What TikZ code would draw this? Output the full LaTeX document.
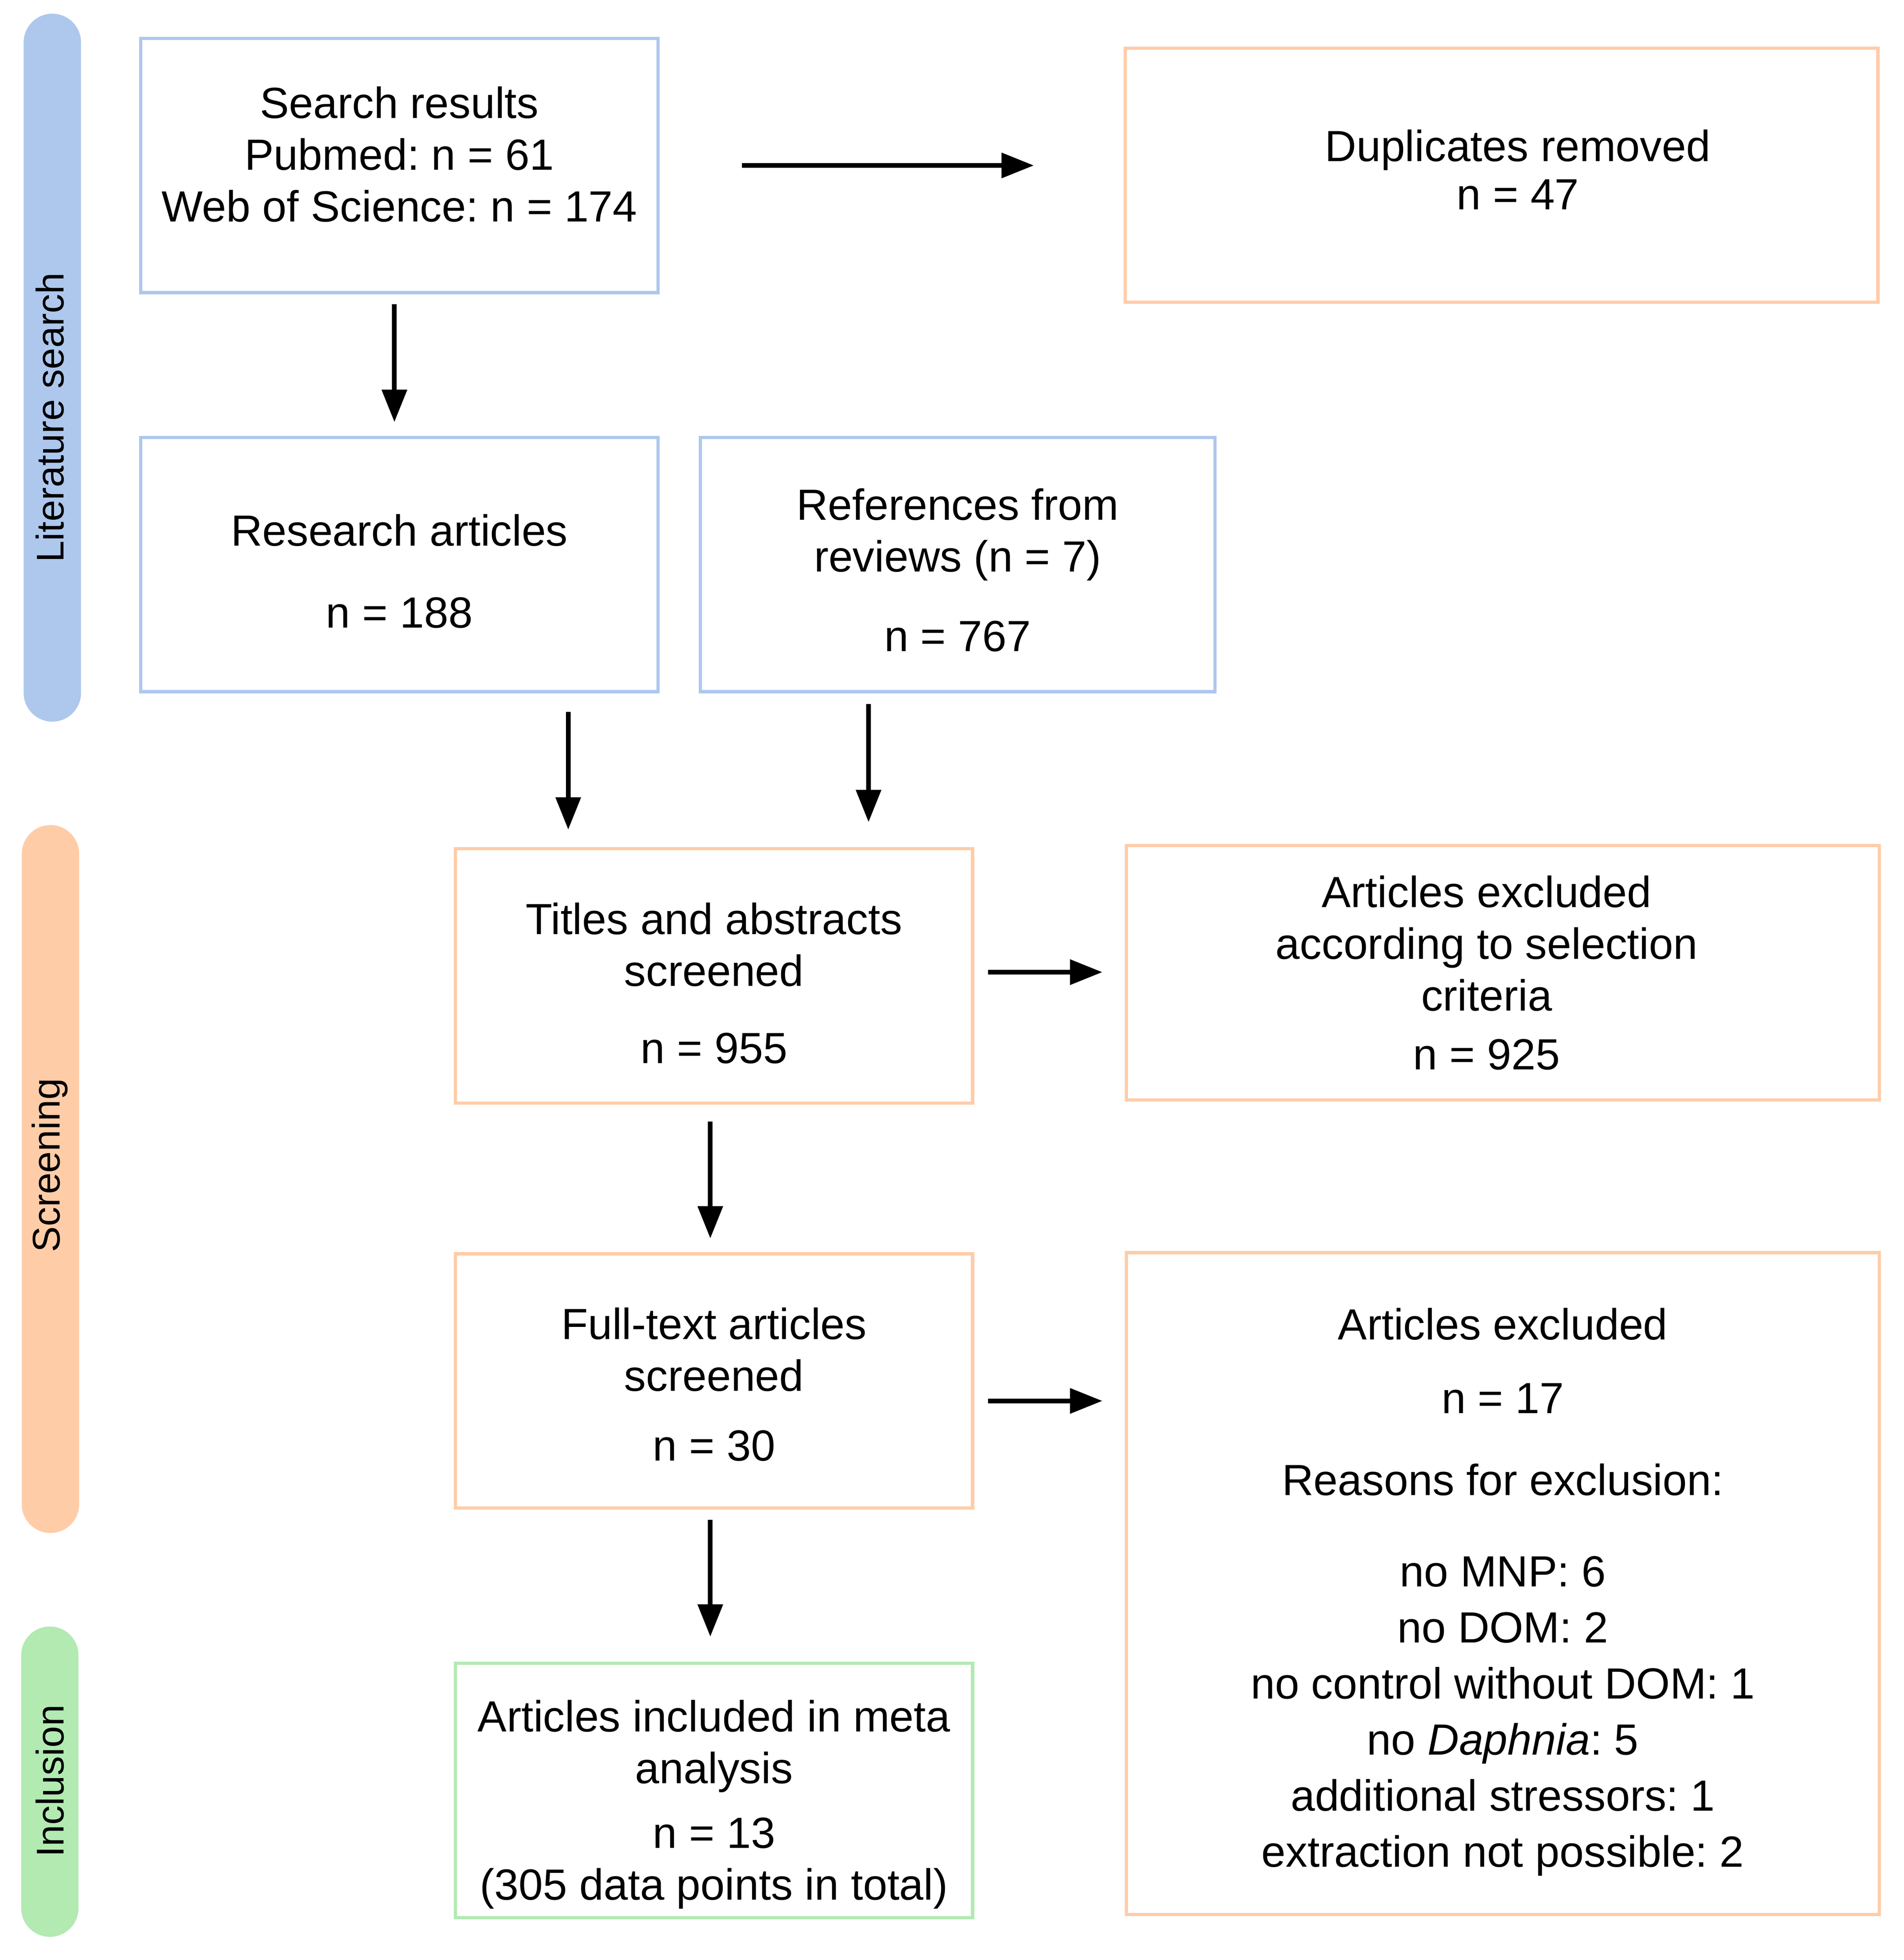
\documentclass[tikz,border=0pt]{standalone}
\usepackage{fontspec}
\setmainfont{Liberation Sans}
\usetikzlibrary{arrows.meta}
\frenchspacing

\definecolor{litblue}{HTML}{AEC7ED}
\definecolor{scrorange}{HTML}{FFCCA8}
\definecolor{incgreen}{HTML}{B2EAB2}

\newcommand\boxfont{\fontsize{17.5pt}{20.75pt}\selectfont}
\newcommand\phasefont{\fontsize{15.5pt}{18pt}\selectfont}
% struts that move the text of a box down (first line) or up (last line)
\newcommand\pushdown[1]{\rule{0pt}{\dimexpr 13pt+#1\relax}}
\newcommand\pushup[1]{\rule[-#1]{0pt}{#1}}

\tikzset{
  box/.style={draw, rectangle, line width=1.3pt, align=center, inner sep=0pt,
              font=\boxfont, minimum width=207.5pt, minimum height=102pt},
  widebox/.style={box, minimum width=302pt},
  phase/.style={rectangle, draw=none, rounded corners=11.5pt, minimum width=23pt, inner sep=0pt},
  phasetext/.style={rotate=90, font=\phasefont, inner sep=0pt},
  arr/.style={-{Triangle[length=13pt,width=9.8pt]}, line width=1.9pt}
}

\begin{document}
\begin{tikzpicture}[x=0.5pt, y=-0.5pt]
  \useasboundingbox (0,0) rectangle (1527.8,1572.6);

  % phase bars
  \node[phase, fill=litblue, minimum height=284pt]   (litbar) at (42,295)  {};
  \node[phase, fill=scrorange, minimum height=284pt] (scrbar) at (40.5,946) {};
  \node[phase, fill=incgreen, minimum height=124.5pt] (incbar) at (40,1429.5) {};
  \node[phasetext] (littext) at (40,335)  {Literature search};
  \node[phasetext] (scrtext) at (40,935)  {Screening};
  \node[phasetext] (inctext) at (40,1429) {Inclusion};

  % literature search
  \node[box, draw=litblue] (search) at (320.5,132.75)
    {Search results\\Pubmed: n = 61\\Web of Science: n = 174\pushup{9pt}};
  \node[widebox, draw=scrorange] (dup) at (1205,140.6)
    {\rule{13pt}{0pt}Duplicates removed\\[-1.4pt]\rule{13pt}{0pt}n = 47\pushup{4.5pt}};
  \node[box, draw=litblue] (research) at (320.5,453)
    {\pushdown{5pt}Research articles\\[12.25pt]n = 188};
  \node[box, draw=litblue, minimum width=206.5pt] (refs) at (768.5,453)
    {\pushdown{4pt}References from\\reviews (n = 7)\\[11.25pt]n = 767};

  % screening
  \node[box, draw=scrorange] (titles) at (573,783)
    {\pushdown{5.5pt}Titles and abstracts\\screened\\[10.25pt]n = 955};
  \node[widebox, draw=scrorange] (excl1) at (1206,780.5)
    {Articles excluded\rule{13pt}{0pt}\\according to selection\rule{13pt}{0pt}\\criteria\rule{13pt}{0pt}\\[2.75pt]n = 925\rule{13pt}{0pt}};
  \node[box, draw=scrorange] (full) at (573,1108)
    {\pushdown{2.5pt}Full-text articles\\screened\\[7.25pt]n = 30};
  \node[widebox, draw=scrorange, minimum height=265.5pt,
        font={\fontsize{17.5pt}{22.5pt}\selectfont}] (excl2) at (1206,1270.5)
    {\pushdown{6.5pt}Articles excluded\\[7pt]n = 17\\[10.5pt]Reasons for exclusion:\\[14pt]no MNP: 6\\no DOM: 2\\no control without DOM: 1\\no \textit{Daphnia}: 5\\additional stressors: 1\\extraction not possible: 2};

  % inclusion
  \node[box, draw=incgreen] (incl) at (573,1436.5)
    {\pushdown{11pt}Articles included in meta\\analysis\\[5.25pt]n = 13\\(305 data points in total)};

  % arrows
  \draw[arr, shorten <=33pt, shorten >=36pt] (search.east) -- (search.east -| dup.west);
  \draw[arr, shorten <=4pt, shorten >=5.5pt] ([xshift=-2pt]search.south) -- ([xshift=-2pt]search.south |- research.north);
  \draw[arr, shorten <=7.5pt, shorten >=7pt] ([xshift=67.75pt]research.south) -- ([xshift=67.75pt]research.south |- titles.north);
  \draw[arr, shorten <=4.25pt, shorten >=10pt] ([xshift=-35.75pt]refs.south) -- ([xshift=-35.75pt]refs.south |- titles.north);
  \draw[arr, shorten <=5.5pt, shorten >=9pt] ([yshift=1.5pt]titles.east) -- ([yshift=1.5pt]titles.east -| excl1.west);
  \draw[arr, shorten <=6.75pt, shorten >=5.5pt] ([xshift=-1.5pt]titles.south) -- ([xshift=-1.5pt]titles.south |- full.north);
  \draw[arr, shorten <=5.5pt, shorten >=9pt] ([yshift=-8pt]full.east) -- ([yshift=-8pt]full.east -| excl2.west);
  \draw[arr, shorten <=4pt, shorten >=10pt] ([xshift=-1.5pt]full.south) -- ([xshift=-1.5pt]full.south |- incl.north);
\end{tikzpicture}
\end{document}
